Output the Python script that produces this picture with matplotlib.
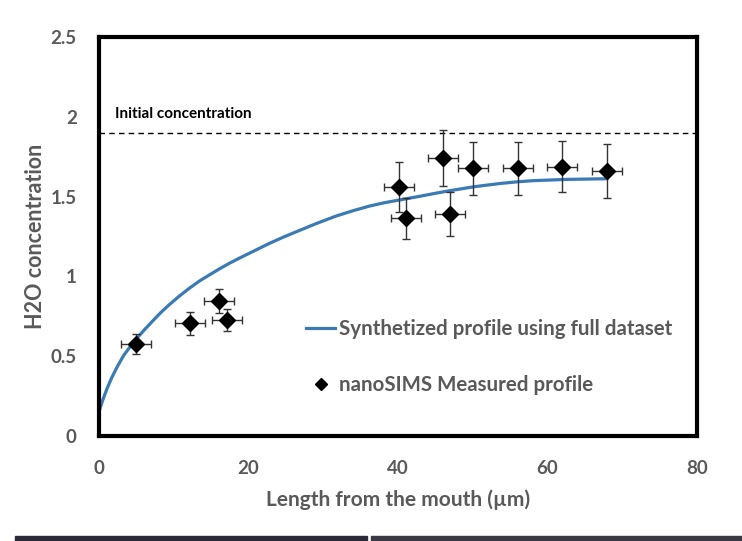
import matplotlib
matplotlib.use("Agg")
import matplotlib.pyplot as plt
from matplotlib.lines import Line2D
from matplotlib.patches import Rectangle

plt.rcParams['font.family'] = ['Lato', 'DejaVu Sans']

# nanoSIMS measured points
x_meas = [5.0, 12.2, 16.1, 17.1, 40.1, 41.1, 46.0, 46.9, 50.0, 56.0, 61.9, 67.9]
y_meas = [0.576, 0.706, 0.848, 0.727, 1.558, 1.364, 1.744, 1.391, 1.677, 1.677, 1.687, 1.66]
y_err = [0.063, 0.07, 0.075, 0.07, 0.156, 0.13, 0.175, 0.14, 0.165, 0.165, 0.16, 0.167]
x_err = [2.0] * 12

# synthetized profile
x_syn = [0.0, 0.5, 1.1, 1.7, 2.45, 3.3, 4.25, 5.2, 6.2, 7.37, 8.3, 9.38, 10.7, 12.06,
         13.4, 14.75, 16.1, 17.43, 18.8, 20.1, 22.8, 24.6, 26.4, 29.0, 31.7, 34.0, 36.2,
         38.2, 40.2, 42.9, 44.9, 46.9, 50.2, 53.6, 56.0, 58.1, 62.6, 67.9]
y_syn = [0.152, 0.225, 0.30, 0.365, 0.435, 0.505, 0.565, 0.62, 0.672, 0.73, 0.775, 0.822,
         0.875, 0.925, 0.97, 1.009, 1.047, 1.082, 1.115, 1.145, 1.207, 1.245, 1.28, 1.33,
         1.378, 1.412, 1.441, 1.462, 1.479, 1.502, 1.52, 1.537, 1.562, 1.582, 1.593, 1.60,
         1.608, 1.612]

initial_conc = 1.9
x_ticks = [0, 20, 40, 60, 80]
y_ticks = [0, 0.5, 1, 1.5, 2, 2.5]
y_tick_labels = ['0', '0.5', '1', '1.5', '2', '2.5']

grey = '#595959'
blue = '#3a7ab5'

fig = plt.figure(figsize=(7.42, 5.41), dpi=100)
ax = fig.add_axes([0.1334, 0.194, 0.806, 0.7376])

ax.plot(x_syn, y_syn, color=blue, lw=2.3, zorder=2)
ax.axhline(initial_conc, color='black', lw=1, linestyle=(0, (4, 3)), zorder=1)
ax.errorbar(x_meas, y_meas, xerr=x_err, yerr=y_err, fmt='D', color='black',
            markersize=8, ecolor='#333333', elinewidth=1, capsize=3, capthick=1, zorder=3)

ax.text(2.2, 1.975, 'Initial concentration', fontsize=11, fontweight='bold',
        color='black', ha='left', va='bottom')

ax.set_xlim(0, 80)
ax.set_ylim(0, 2.5)
ax.set_xticks(x_ticks)
ax.set_yticks(y_ticks)
ax.set_yticklabels(y_tick_labels)
ax.tick_params(length=0, labelsize=13.5, labelcolor=grey)
ax.tick_params(axis='x', pad=17)
ax.tick_params(axis='y', pad=16)
for label in ax.get_xticklabels() + ax.get_yticklabels():
    label.set_fontweight('bold')

ax.set_xlabel('Length from the mouth (µm)', fontsize=15, fontweight='bold', color=grey, labelpad=9)
ax.set_ylabel('H2O concentration', fontsize=15.5, fontweight='bold', color=grey, labelpad=3)

for s in ax.spines.values():
    s.set_linewidth(3)
    s.set_color('black')

handles = [Line2D([0], [0], color=blue, lw=2.3),
           Line2D([0], [0], marker='D', color='black', lw=0, markersize=6)]
leg = ax.legend(handles, ['Synthetized profile using full dataset', 'nanoSIMS Measured profile'],
                loc='upper left', bbox_to_anchor=(0.316, 0.34), frameon=False,
                fontsize=14.8, labelspacing=1.75, handlelength=1.4, handletextpad=0.2)
for t in leg.get_texts():
    t.set_color(grey)
    t.set_fontweight('bold')

# dark strip from the neighbouring picture at the bottom edge
fig.patches.append(Rectangle((0.02, 0.0), 0.475, 0.01, transform=fig.transFigure,
                             color='#2b2838', zorder=0))
fig.patches.append(Rectangle((0.5, 0.0), 0.5, 0.01, transform=fig.transFigure,
                             color='#3a3844', zorder=0))

fig.savefig('out.png', dpi=100)
